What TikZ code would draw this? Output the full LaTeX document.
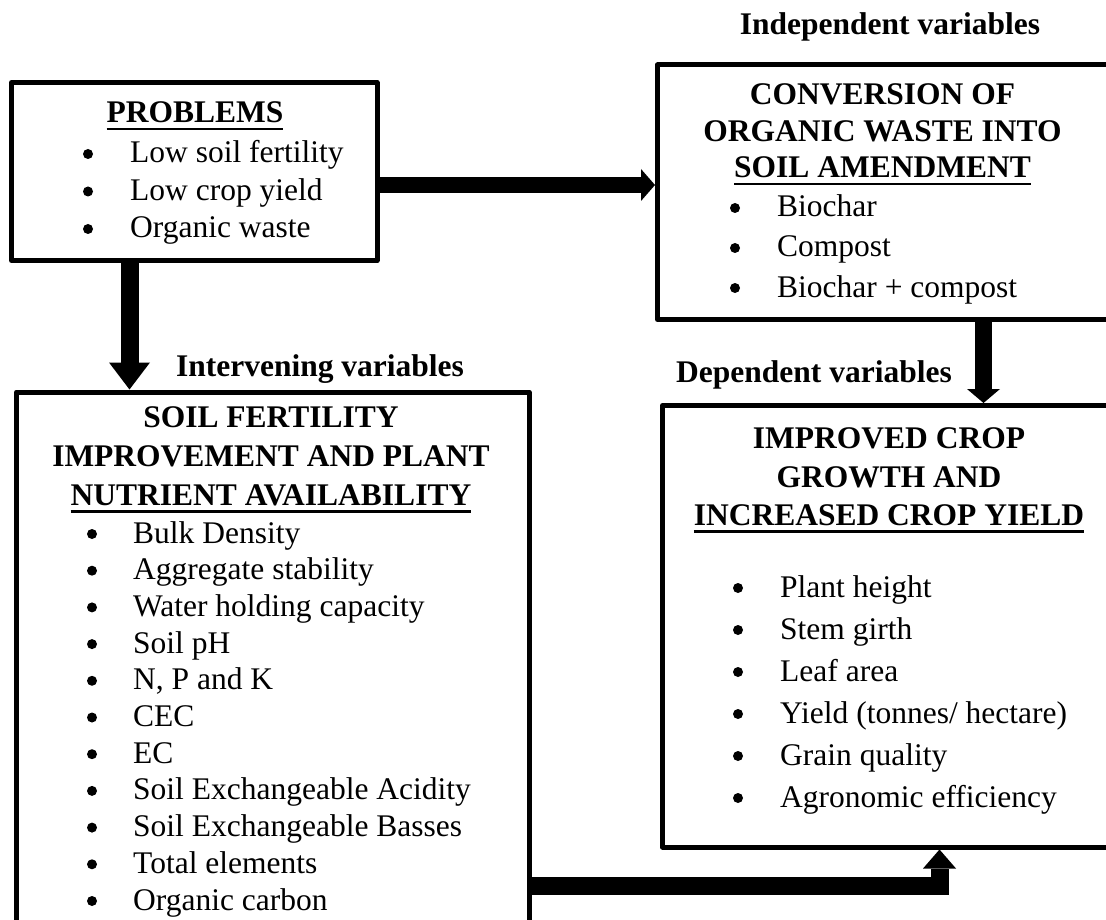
\documentclass[tikz,border=0pt]{standalone}
\usepackage{fontspec}
\setmainfont{Liberation Serif}
\usetikzlibrary{arrows.meta}
\newsavebox\ulbox
\newcommand\ulx[1]{\sbox\ulbox{#1}\rlap{\rule[-7.5pt]{\wd\ulbox}{2.5pt}}\usebox\ulbox}
\begin{document}
\begin{tikzpicture}[x=1pt,y=-1pt,
  box/.style={draw, line width=5pt, line join=round, inner sep=0pt},
  txt/.style={inner sep=0pt, anchor=base, font=\fontsize{31.5}{37}\selectfont},
  hd/.style={txt, font=\fontsize{31.5}{37}\selectfont\bfseries},
  item/.style={txt, anchor=base west},
  fatarrow/.style={line width=#1, line join=miter},
]
\useasboundingbox (0,0) rectangle (1106,920);
\clip (0,0) rectangle (1106,920);

% boxes
\node[box, minimum width=365.5pt, minimum height=178pt] (prob) at (194.25,171.5) {};
\node[box, minimum width=450.5pt, minimum height=254.5pt] (conv) at (882.75,192.25) {};
\node[box, minimum width=512.5pt, minimum height=560pt] (inter) at (272.75,672) {};
\node[box, minimum width=453pt, minimum height=441.5pt] (impr) at (889,626.25) {};

% labels
\node[hd] (lind) at (890,35) {Independent variables};
\node[hd] (lint) at (320,376) {Intervening variables};
\node[hd] (ldep) at (814,382) {Dependent variables};

% problems
\node[hd] (probt) at (195,123) {\ulx{PROBLEMS}};
\foreach \t [count=\i] in {Low soil fertility, Low crop yield, Organic waste}{
  \node[item] (prob\i) at (130,{163+(\i-1)*37.5}) {\t};
  \fill (88,{163+(\i-1)*37.5-9}) circle (5pt);
}

% conversion
\node[hd] (convt1) at (882.5,105) {CONVERSION OF};
\node[hd] (convt2) at (882.5,142) {ORGANIC WASTE INTO};
\node[hd] (convt3) at (882.5,178) {\ulx{SOIL AMENDMENT}};
\foreach \t [count=\i] in {Biochar, Compost, Biochar + compost}{
  \node[item] (conv\i) at (777,{217+(\i-1)*40}) {\t};
  \fill (735,{217+(\i-1)*40-9}) circle (5pt);
}

% intervening
\node[hd] (intt1) at (271,427) {SOIL FERTILITY};
\node[hd] (intt2) at (271,466) {IMPROVEMENT AND PLANT};
\node[hd] (intt3) at (271,505) {\ulx{NUTRIENT AVAILABILITY}};
\foreach \t [count=\i] in {Bulk Density, Aggregate stability, Water holding capacity, Soil pH, {N, P and K}, CEC, EC, Soil Exchangeable Acidity, Soil Exchangeable Basses, Total elements, Organic carbon}{
  \node[item] (int\i) at (133,{543+(\i-1)*36.7}) {\t};
  \fill (92,{543+(\i-1)*36.7-9}) circle (5pt);
}

% improved
\node[hd] (impt1) at (889,448) {IMPROVED CROP};
\node[hd] (impt2) at (889,487) {GROWTH AND};
\node[hd] (impt3) at (889,525) {\ulx{INCREASED CROP YIELD}};
\foreach \t [count=\i] in {Plant height, Stem girth, Leaf area, Yield (tonnes/ hectare), Grain quality, Agronomic efficiency}{
  \node[item] (imp\i) at (780,{597+(\i-1)*42}) {\t};
  \fill (738,{597+(\i-1)*42-9}) circle (5pt);
}

% connectors
\coordinate (h1) at (0,185);
\coordinate (v1) at (129.5,0);
\coordinate (v3) at (983.5,0);
\coordinate (h2) at (0,886);
\coordinate (v2) at (939.5,0);
\draw[fatarrow=16pt, -{Triangle[width=32pt,length=14pt,line width=0pt]}] (prob.east |- h1) -- (conv.west |- h1);
\draw[fatarrow=18pt, -{Triangle[width=41pt,length=27pt,line width=0pt]}] (prob.south -| v1) -- (inter.north -| v1);
\draw[fatarrow=17pt, -{Triangle[width=33pt,length=14pt,line width=0pt]}] (conv.south -| v3) -- (impr.north -| v3);
\draw[fatarrow=18pt, -{Triangle[width=33pt,length=19pt,line width=0pt]}] (inter.east |- h2) -- (v2 |- h2) -- (impr.south -| v2);
\end{tikzpicture}
\end{document}
